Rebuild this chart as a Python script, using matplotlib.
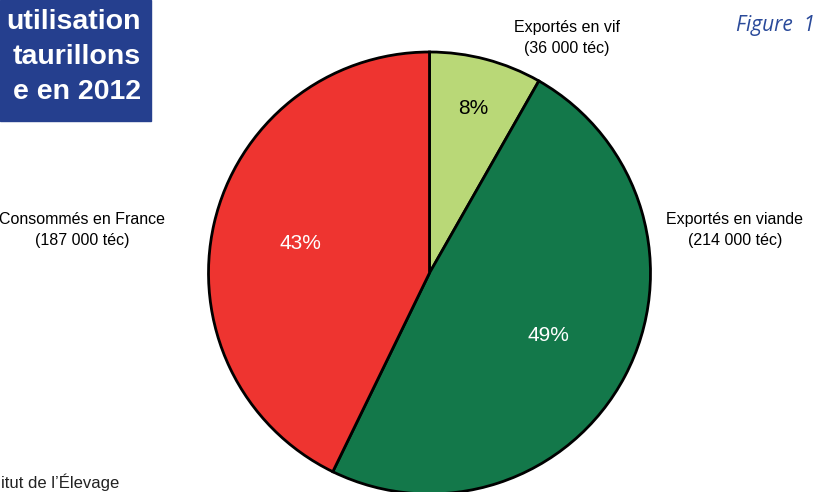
import matplotlib
matplotlib.use("Agg")
import matplotlib.pyplot as plt
import numpy as np

categories = ["Exportés en vif", "Exportés en viande", "Consommés en France"]
volumes_tec = [36000, 214000, 187000]
pct_labels = ["8%", "49%", "43%"]
colors = ["#b9d877", "#13784a", "#ee3430"]
pct_colors = ["black", "white", "white"]

font = "Liberation Sans"

W, H = 819, 492
fig = plt.figure(figsize=(W / 100, H / 100), dpi=100)
fig.patch.set_facecolor("white")

# pie axes
cx, cy, r = 429.5, 273, 221
ax = fig.add_axes([(cx - r) / W, (H - cy - r) / H, 2 * r / W, 2 * r / H])
wedges, _ = ax.pie(volumes_tec, colors=colors, startangle=90, counterclock=False,
                   radius=1, wedgeprops=dict(edgecolor="black", linewidth=2))
ax.set_xlim(-1, 1)
ax.set_ylim(-1, 1)
ax.set_aspect("equal")
ax.axis("off")
for w in wedges:
    w.set_clip_on(False)

dist = [0.77, 0.61, 0.6]
for w, lab, col, d in zip(wedges, pct_labels, pct_colors, dist):
    ang = np.deg2rad((w.theta1 + w.theta2) / 2)
    ax.text(d * np.cos(ang), d * np.sin(ang), lab, ha="center", va="center",
            fontsize=15, color=col, family=font)

def fx(x):
    return x / W

def fy(y):
    return 1 - y / H

# outer labels
outer = [(567, 38), (735, 230), (82, 230)]
for (x, y), cat, v in zip(outer, categories, volumes_tec):
    s = f"{v:,}".replace(",", " ")
    fig.text(fx(x), fy(y), f"{cat}\n({s} téc)", ha="center", va="center",
             fontsize=11.5, family=font, linespacing=1.5)

# title box
box = plt.Rectangle((0, fy(121)), fx(151), 1 - fy(121), transform=fig.transFigure,
                    color="#253f8e", zorder=0)
fig.patches.append(box)
title_lines = ["utilisation", "taurillons", "e en 2012"]
for i, t in enumerate(title_lines):
    fig.text(fx(141), fy(22 + i * 35), t, ha="right", va="center", fontsize=20.5,
             fontweight="bold", color="white", family=font)

fig.text(fx(815), fy(25), "Figure  1", ha="right", va="center", fontsize=15,
         style="italic", color="#2a4a9a", family="Open Sans")

fig.text(fx(1), fy(482), "itut de l’Élevage", ha="left", va="center", fontsize=12,
         color="#222222", family=font)

fig.savefig("out.png", dpi=100)
